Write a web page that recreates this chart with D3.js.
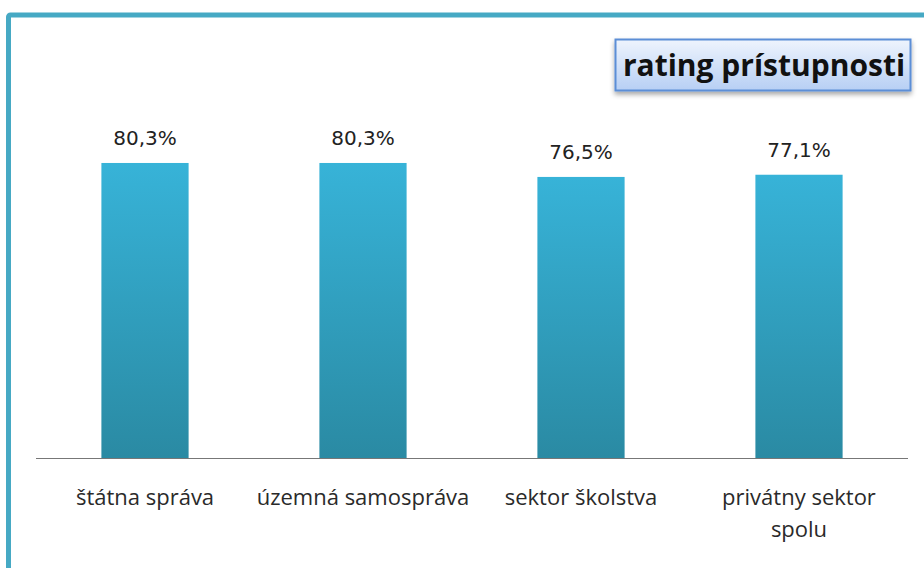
<html>
<head>
<meta charset="utf-8">
<title>rating prístupnosti</title>
<style>
body { margin: 0; background: #fff; }
.value { font-family: "DejaVu Sans", Verdana, sans-serif; font-size: 20px; fill: #222; }
.cat { font-family: "Open Sans", Lato, sans-serif; font-size: 22px; fill: #2a2a2a; }
.title { font-family: "Open Sans", Lato, sans-serif; font-size: 30px; font-weight: bold; fill: #111; }
</style>
</head>
<body>
<div id="chart"></div>
<script src="https://d3js.org/d3.v7.min.js"></script>
<script>

// data
const categories = ['štátna správa', 'územná samospráva', 'sektor školstva', 'privátny sektor spolu'];
const catLines = [['štátna správa'], ['územná samospráva'], ['sektor školstva'], ['privátny sektor', 'spolu']];
const values = [80.3, 80.3, 76.5, 77.1];
const valueLabels = ['80,3%', '80,3%', '76,5%', '77,1%'];
const title = 'rating prístupnosti';

const width = 924, height = 568;

const svg = d3.select('#chart').append('svg')
	.attr('width', width)
	.attr('height', height);

const defs = svg.append('defs');

const barGrad = defs.append('linearGradient')
	.attr('id', 'barGrad')
	.attr('x1', 0).attr('y1', 0).attr('x2', 0).attr('y2', 1);
barGrad.append('stop').attr('offset', '0%').attr('stop-color', '#37b3d8');
barGrad.append('stop').attr('offset', '100%').attr('stop-color', '#2a8aa3');

const boxGrad = defs.append('linearGradient')
	.attr('id', 'boxGrad')
	.attr('x1', 0).attr('y1', 0).attr('x2', 0).attr('y2', 1);
boxGrad.append('stop').attr('offset', '0%').attr('stop-color', '#eef4fd');
boxGrad.append('stop').attr('offset', '100%').attr('stop-color', '#b7cff4');

const shadow = defs.append('filter').attr('id', 'shadow')
	.attr('x', '-10%').attr('y', '-20%').attr('width', '120%').attr('height', '160%');
shadow.append('feDropShadow')
	.attr('dx', 0).attr('dy', 3).attr('stdDeviation', 2.5)
	.attr('flood-color', '#000').attr('flood-opacity', 0.35);

// outer frame
svg.append('rect')
	.attr('x', 8.5).attr('y', 15)
	.attr('width', 930).attr('height', 570)
	.attr('rx', 2)
	.attr('fill', 'none')
	.attr('stroke', '#46a9c4')
	.attr('stroke-width', 5);

// scales
const x = d3.scaleBand()
	.domain(categories)
	.range([36, 908])
	.paddingInner(0.6)
	.paddingOuter(0.3);

const y = d3.scaleLinear()
	.domain([0, 100])
	.range([458, 90.6]);

// bars
svg.selectAll('rect.bar')
	.data(values)
	.join('rect')
	.attr('class', 'bar')
	.attr('x', (d, i) => x(categories[i]))
	.attr('y', d => y(d))
	.attr('width', x.bandwidth())
	.attr('height', d => y(0) - y(d))
	.attr('fill', 'url(#barGrad)');

// baseline
svg.append('line')
	.attr('x1', 36).attr('x2', 908)
	.attr('y1', y(0) + 0.5).attr('y2', y(0) + 0.5)
	.attr('stroke', '#777')
	.attr('stroke-width', 1);

// value labels
svg.selectAll('text.value')
	.data(values)
	.join('text')
	.attr('class', 'value')
	.attr('x', (d, i) => x(categories[i]) + x.bandwidth() / 2)
	.attr('y', d => y(d) - 18)
	.attr('text-anchor', 'middle')
	.text((d, i) => valueLabels[i]);

// category labels
const cats = svg.selectAll('text.cat')
	.data(catLines)
	.join('text')
	.attr('class', 'cat')
	.attr('x', (d, i) => x(categories[i]) + x.bandwidth() / 2)
	.attr('y', 505)
	.attr('text-anchor', 'middle');
cats.selectAll('tspan')
	.data(d => d)
	.join('tspan')
	.attr('x', function () { return d3.select(this.parentNode).attr('x'); })
	.attr('dy', (d, i) => i === 0 ? 0 : 32)
	.text(d => d);

// title box
svg.append('rect')
	.attr('x', 615.5).attr('y', 39.5)
	.attr('width', 295).attr('height', 51)
	.attr('fill', 'url(#boxGrad)')
	.attr('stroke', '#5b8ed6')
	.attr('stroke-width', 2)
	.attr('filter', 'url(#shadow)');

svg.append('text')
	.attr('class', 'title')
	.attr('x', 764)
	.attr('y', 76)
	.attr('text-anchor', 'middle')
	.text(title);

</script>
</body>
</html>
